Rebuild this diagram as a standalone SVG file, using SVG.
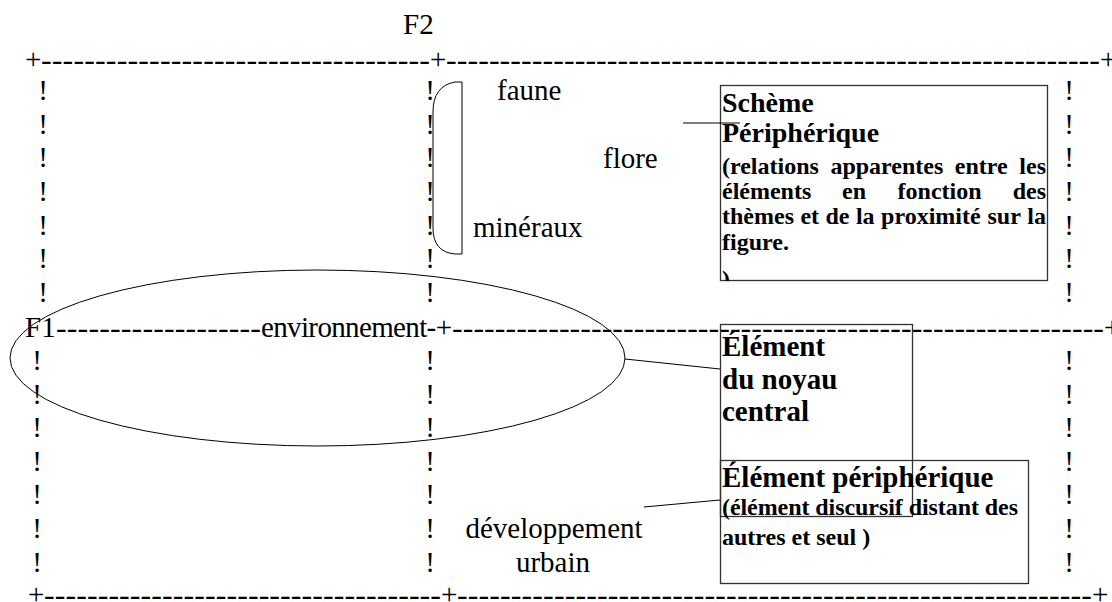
<svg xmlns="http://www.w3.org/2000/svg" width="1112" height="602" viewBox="0 0 1112 602">
<style>
.t{font-family:"Liberation Serif","Times New Roman",serif;font-size:29px;fill:#000}
.d{font-family:"Liberation Serif","Times New Roman",serif;font-size:32px;fill:#000}
.b{font-family:"Liberation Serif","Times New Roman",serif;font-size:28px;font-weight:bold;fill:#000}
.b9{font-family:"Liberation Serif","Times New Roman",serif;font-size:29px;font-weight:bold;fill:#000}
.s{font-family:"Liberation Serif","Times New Roman",serif;font-size:24px;font-weight:bold;fill:#000}
.x{text-anchor:middle}
.box{fill:none;stroke:#333;stroke-width:1.3}
.ln{fill:none;stroke:#000;stroke-width:1}
</style>
<defs>
<clipPath id="clipScheme"><rect x="720" y="85" width="328" height="196"/></clipPath>
</defs>
<rect width="1112" height="602" fill="#fff"/>

<g id="frame">
<text class="t" x="403" y="34">F2</text>
<!-- top line -->
<text class="t" x="25" y="69">+</text>
<text class="d" x="41" y="70" textLength="389" lengthAdjust="spacing">------------------------------------</text>
<text class="t" x="430" y="69">+</text>
<text class="d" x="446" y="70" textLength="654" lengthAdjust="spacing">-------------------------------------------------------------</text>
<text class="t" x="1100" y="69">+</text>
<!-- middle line -->
<text class="t" x="25" y="337">F1</text>
<text class="d" x="56" y="338" textLength="205" lengthAdjust="spacing">-------------------</text>
<text class="t" x="261" y="337" textLength="191" lengthAdjust="spacing">environnement-+</text>
<text class="d" x="452" y="338" textLength="652" lengthAdjust="spacing">-------------------------------------------------------------</text>
<text class="t" x="1104" y="337">+</text>
<!-- bottom line -->
<text class="t" x="28" y="604">+</text>
<text class="d" x="44" y="605" textLength="397" lengthAdjust="spacing">-------------------------------------</text>
<text class="t" x="441" y="604">+</text>
<text class="d" x="457" y="605" textLength="635" lengthAdjust="spacing">-----------------------------------------------------------</text>
<text class="t" x="1092" y="604">+</text>
<!-- columns upper -->
<g class="t x">
<text x="43" y="100">!</text><text x="43" y="134">!</text><text x="43" y="167">!</text><text x="43" y="201">!</text><text x="43" y="235">!</text><text x="43" y="268">!</text><text x="43" y="302">!</text>
<text x="430" y="100">!</text><text x="430" y="134">!</text><text x="430" y="167">!</text><text x="430" y="201">!</text><text x="430" y="235">!</text><text x="430" y="268">!</text><text x="430" y="302">!</text>
<text x="1069" y="100">!</text><text x="1069" y="134">!</text><text x="1069" y="167">!</text><text x="1069" y="201">!</text><text x="1069" y="235">!</text><text x="1069" y="268">!</text><text x="1069" y="302">!</text>
<!-- columns lower -->
<text x="37" y="370">!</text><text x="37" y="404">!</text><text x="37" y="437">!</text><text x="37" y="471">!</text><text x="37" y="504">!</text><text x="37" y="538">!</text><text x="37" y="572">!</text>
<text x="430" y="370">!</text><text x="430" y="404">!</text><text x="430" y="437">!</text><text x="430" y="471">!</text><text x="430" y="504">!</text><text x="430" y="538">!</text><text x="430" y="572">!</text>
<text x="1069" y="370">!</text><text x="1069" y="404">!</text><text x="1069" y="437">!</text><text x="1069" y="471">!</text><text x="1069" y="504">!</text><text x="1069" y="538">!</text><text x="1069" y="572">!</text>
</g>
</g>

<g id="bracket">
<path class="ln" d="M462,82 L455,82 Q433,86 433,112 L433,228 Q433,252 455,254 L462,254 Z"/>
</g>

<g id="faune"><text class="t" x="497" y="100">faune</text></g>
<g id="flore"><text class="t" x="603" y="168">flore</text></g>
<g id="mineraux"><text class="t" x="473" y="237">minéraux</text></g>

<g id="environnement-ellipse">
<ellipse class="ln" cx="317.5" cy="358" rx="307.5" ry="88"/>
</g>

<g id="developpement">
<text class="t x" x="554" y="538">développement</text>
<text class="t x" x="553" y="572">urbain</text>
</g>

<g id="scheme-box">
<rect class="box" x="720.5" y="85.5" width="327" height="195"/>
<g clip-path="url(#clipScheme)">
<text class="b" x="722" y="112">Schème</text>
<text class="b" x="722" y="142">Périphérique</text>
<text class="s" y="174"><tspan x="722">(relations</tspan><tspan x="830.4">apparentes</tspan><tspan x="954.8">entre</tspan><tspan x="1046" text-anchor="end">les</tspan></text>
<text class="s" y="199"><tspan x="722">éléments</tspan><tspan x="842">en</tspan><tspan x="897.6">fonction</tspan><tspan x="1046" text-anchor="end">des</tspan></text>
<text class="s" y="224"><tspan x="722">thèmes</tspan><tspan x="800.4">et</tspan><tspan x="825.5">de</tspan><tspan x="855.9">la</tspan><tspan x="881.1">proximité</tspan><tspan x="987.5">sur</tspan><tspan x="1046" text-anchor="end">la</tspan></text>
<text class="s" x="722" y="250">figure.</text>
<text class="s" x="722" y="287">)</text>
</g>
</g>

<g id="noyau-box">
<rect class="box" x="720.5" y="324.5" width="192" height="192"/>
<text class="b9" x="722" y="356">Élément</text>
<text class="b9" x="722" y="389">du noyau</text>
<text class="b9" x="722" y="421">central</text>
</g>

<g id="periph-box">
<rect class="box" x="720.5" y="460.5" width="308" height="123"/>
<text class="b9" x="722" y="487">Élément périphérique</text>
<text class="s" x="722" y="515" textLength="296" lengthAdjust="spacing">(élément discursif distant des</text>
<text class="s" x="722" y="545">autres et seul )</text>
</g>

<g id="connectors">
<line class="ln" x1="683" y1="123" x2="740" y2="123"/>
<line class="ln" x1="625" y1="359" x2="720" y2="369"/>
<line class="ln" x1="644" y1="507" x2="720" y2="500"/>
</g>
</svg>
